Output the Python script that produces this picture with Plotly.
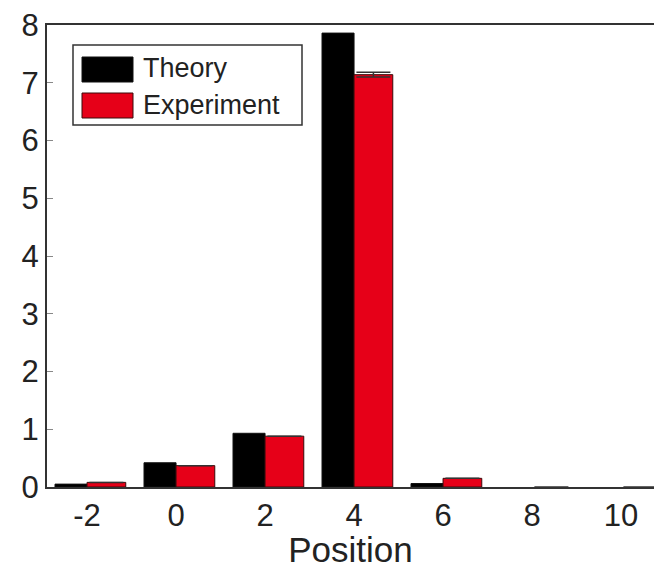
import plotly.graph_objects as go

positions = [-2, 0, 2, 4, 6, 8, 10]
theory = [0.05, 0.42, 0.93, 7.86, 0.06, 0.0, 0.0]
experiment = [0.08, 0.37, 0.88, 7.14, 0.15, 0.0, 0.0]
experiment_err = [0, 0, 0, 0.04, 0, 0, 0]
series_names = ["Theory", "Experiment"]
y_ticks = [0, 1, 2, 3, 4, 5, 6, 7, 8]

W, H = 654, 569
L, T, B, R = 47, 25, 82, 0
pw, ph = W - L - R, H - T - B

def px(x):
    return (x - L) / pw

def py(y):
    return (H - B - y) / ph

FONT = "Liberation Sans, Arial, sans-serif"
RED = "#E60018"
outline_w = [0 if v == 0 else 1 for v in theory]

fig = go.Figure()
fig.add_trace(go.Bar(
    x=positions, y=theory, name=series_names[0],
    offset=-0.72, width=0.72,
    marker=dict(color="#000000", line=dict(color="#111111", width=outline_w)),
    showlegend=False,
))
fig.add_trace(go.Bar(
    x=positions, y=experiment, name=series_names[1],
    offset=0.0, width=0.87,
    marker=dict(color=RED, line=dict(color="#3a0a0a", width=[0 if v == 0 else 1 for v in experiment])),
    error_y=dict(type="data", array=experiment_err, color="#333333", thickness=1.5, width=17),
    showlegend=False,
))

# custom legend
shapes = [
    dict(type="rect", xref="paper", yref="paper", x0=px(73), x1=px(302), y0=py(125), y1=py(45),
         line=dict(color="#333333", width=1.5), fillcolor="white", layer="above"),
    dict(type="rect", xref="paper", yref="paper", x0=px(82), x1=px(133), y0=py(82), y1=py(57),
         line=dict(color="#111111", width=1), fillcolor="#000000", layer="above"),
    dict(type="rect", xref="paper", yref="paper", x0=px(82), x1=px(133), y0=py(118), y1=py(93),
         line=dict(color="#3a0a0a", width=1), fillcolor=RED, layer="above"),
]
annotations = [
    dict(xref="paper", yref="paper", x=px(141), y=py(68), text=series_names[0], showarrow=False,
         xanchor="left", yanchor="middle", font=dict(family=FONT, size=27, color="#222222")),
    dict(xref="paper", yref="paper", x=px(141), y=py(105), text=series_names[1], showarrow=False,
         xanchor="left", yanchor="middle", font=dict(family=FONT, size=27, color="#222222")),
]

fig.update_layout(
    width=W, height=H,
    margin=dict(l=L, r=R, t=T, b=B),
    paper_bgcolor="white", plot_bgcolor="white",
    barmode="overlay",
    font=dict(family=FONT, color="#222222"),
    shapes=shapes, annotations=annotations,
    xaxis=dict(
        range=[-2.9, -2.9 + pw / 44.5],
        tickvals=positions, ticktext=[str(p) for p in positions],
        showgrid=False, zeroline=False,
        showline=True, linecolor="#333333", linewidth=2, mirror=True,
        ticks="", tickfont=dict(size=31, family=FONT, color="#222222"),
        title=dict(text="Position", font=dict(size=35, family=FONT, color="#222222"), standoff=0),
    ),
    yaxis=dict(
        range=[0, 8],
        tickvals=y_ticks,
        showgrid=False, zeroline=False,
        showline=True, linecolor="#333333", linewidth=2, mirror=False,
        ticks="inside", ticklen=6, tickcolor="#888888",
        tickfont=dict(size=31, family=FONT, color="#222222"),
    ),
)

fig.write_html("out.html")
